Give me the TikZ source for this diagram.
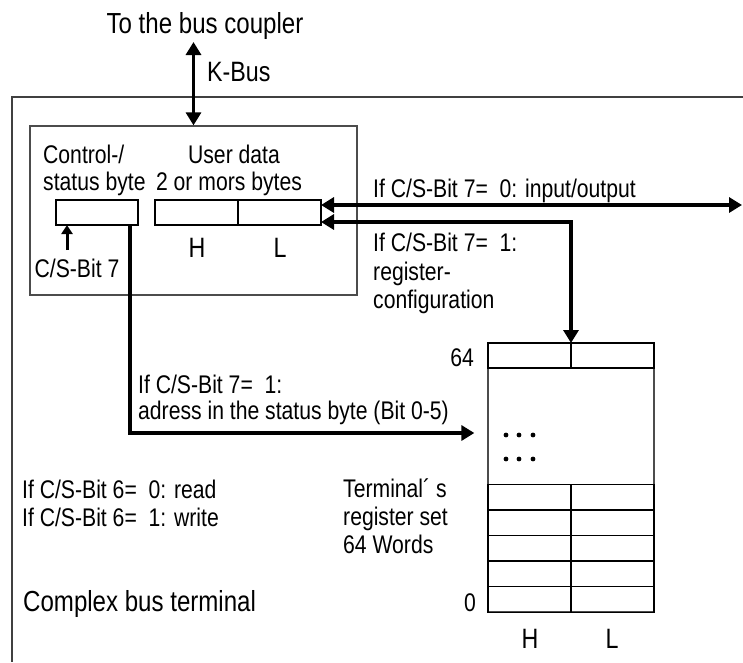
\documentclass[tikz,border=0pt]{standalone}
\usepackage{fontspec}
\setmainfont{Liberation Sans}[FakeStretch=0.83]
\usetikzlibrary{positioning,arrows.meta}

\begin{document}
\begin{tikzpicture}[x=1pt, y=-1pt, every node/.style={font=\fontsize{25.5}{28}\selectfont, inner sep=0pt}]
  \tikzstyle{bytebox}=[rectangle, draw, line width=1.3pt, outer sep=0pt, minimum width=83pt, minimum height=25pt]
  \tikzstyle{bus}=[line width=3.2pt, {Triangle[length=13pt,width=15pt]}-{Triangle[length=13pt,width=15pt]}]
  \tikzstyle{feed}=[line width=3.2pt, -{Triangle[length=13pt,width=15pt]}]
  \tikzstyle{tick}=[line width=3pt, -{Triangle[length=9pt,width=11pt]}]
  \tikzstyle{big}=[font=\fontsize{29}{32}\selectfont]
  \tikzstyle{hl}=[font=\fontsize{28}{32}\selectfont]

  \useasboundingbox (0,0) rectangle (743,662);

  % housing of the terminal
  \draw[line width=1.1pt, black!75] (743,97) -- (12,97) -- (12,662);

  % process image
  \node[draw, line width=1.3pt, black!70, minimum width=327pt, minimum height=169pt] (buf) at (193.5,210.5) {};
  \node[bytebox, minimum width=82pt] (stat) at (97,212.5) {};
  \node[bytebox] (dh) at (196.5,212.5) {};
  \node[bytebox, right=0pt of dh] (dl) {};

  % register set
  \node[draw, line width=1.3pt, black!70, minimum width=166pt, minimum height=269pt] (reg) at (571,477.5) {};
  \node[bytebox] (r64h) at (529.5,355.5) {};
  \node[bytebox, right=0pt of r64h] (r64l) {};
  \foreach \i in {0,...,4} {
    \node[bytebox, minimum height=25.6pt] (rh\i) at (529.5,{599.5-25.6*\i}) {};
    \node[bytebox, minimum height=25.6pt, right=0pt of rh\i] (rl\i) {};
  }
  \foreach \y in {435,459}
    \foreach \x in {506,519,533}
      \fill (\x,\y) circle (2.4pt);

  % texts
  \node[big, anchor=base] (cpl) at (205,33) {To the bus coupler};
  \node[hl, anchor=base west] (kbus) at (207,81) {K-Bus};
  \node[anchor=base west] (ctl1) at (43,163) {Control-/};
  \node[anchor=base west] (ctl2) at (43,190) {status byte};
  \node[anchor=base] (usr1) at (234,163) {User data};
  \node[anchor=base] (usr2) at (229,190) {2 or mors bytes};
  \node[hl, anchor=base] (hb) at (197,257) {H};
  \node[hl, anchor=base] (lb) at (280,257) {L};
  \node[anchor=base] (cs7) at (77,277) {C/S-Bit 7};
  \node[anchor=base west] (io) at (373,197) {If C/S-Bit 7= \ 0: input/output};
  \node[anchor=base west] (cfg1) at (373,251) {If C/S-Bit 7= \ 1:};
  \node[anchor=base west] (cfg2) at (373,280) {register-};
  \node[anchor=base west] (cfg3) at (373,308) {configuration};
  \node[anchor=base west] (adr1) at (138,393) {If C/S-Bit 7= \ 1:};
  \node[anchor=base west] (adr2) at (138,419) {adress in the status byte (Bit 0-5)};
  \node[anchor=base west] (rw1) at (22,498) {If C/S-Bit 6= \ 0: read};
  \node[anchor=base west] (rw2) at (22,526) {If C/S-Bit 6= \ 1: write};
  \node[anchor=base west] (ts1) at (343,497) {Terminal´ s};
  \node[anchor=base west] (ts2) at (343,525) {register set};
  \node[anchor=base west] (ts3) at (343,553) {64 Words};
  \node[big, anchor=base west] (cbt) at (23,611) {Complex bus terminal};
  \node[anchor=base east] (n64) at (474,366) {64};
  \node[anchor=base east] (n0) at (476,611) {0};
  \node[hl, anchor=base] (hr) at (530,648) {H};
  \node[hl, anchor=base] (lr) at (612,648) {L};

  % connectors
  \coordinate (kc) at (193.5,42);
  \draw[bus] (kc) -- (buf.north);
  \coordinate (csb) at (67,250);
  \draw[tick] (csb) -- (csb |- stat.south);
  \coordinate (ioend) at (742,205);
  \draw[bus] (ioend -| dl.east) -- (ioend);
  \coordinate (cfg) at (571,222);
  \draw[bus] (cfg -| dl.east) -- (cfg) -- (r64h.north east);
  \coordinate (adr) at (130,433);
  \draw[feed, shorten >=13pt] (adr |- stat.south) -- (adr) -- (adr -| reg.west);
\end{tikzpicture}
\end{document}
